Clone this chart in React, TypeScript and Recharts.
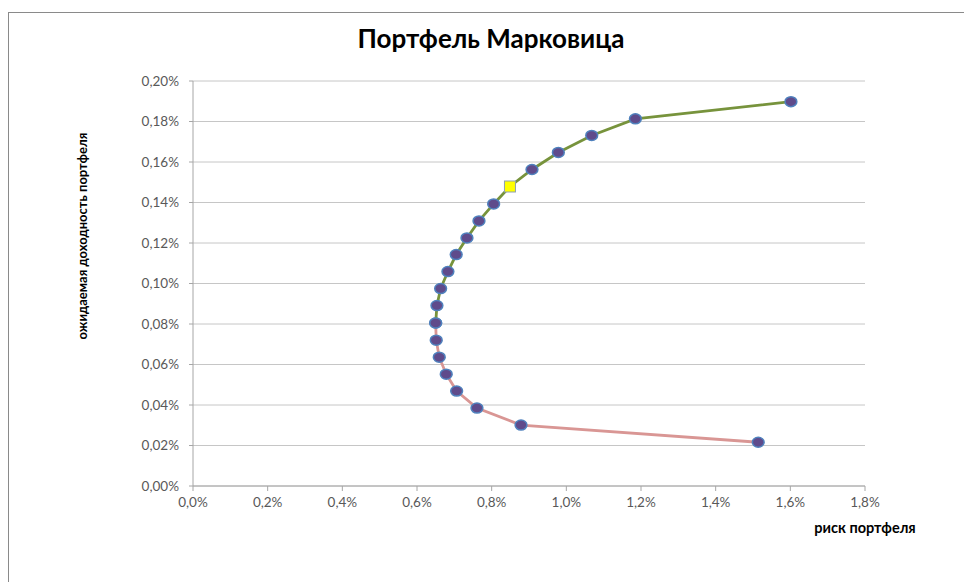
import React from 'react';
import {
  ScatterChart,
  Scatter,
  XAxis,
  YAxis,
  CartesianGrid,
} from 'recharts';

// риск (%) / доходность (%) — верхняя ветвь (эффективная граница)
const upperRisk = [0.650, 0.6534, 0.6633, 0.6828, 0.705, 0.7338, 0.766, 0.8053, 0.849, 0.908, 0.9786, 1.068, 1.185, 1.6016];
const upperReturn = [0.0805, 0.0891, 0.0975, 0.1059, 0.1143, 0.1225, 0.1309, 0.1393, 0.1479, 0.1563, 0.1647, 0.1731, 0.1813, 0.1898];

// нижняя ветвь
const lowerRisk = [0.650, 0.6515, 0.6596, 0.6783, 0.7062, 0.7606, 0.8786, 1.514];
const lowerReturn = [0.0805, 0.0720, 0.0636, 0.0552, 0.0469, 0.0385, 0.0301, 0.0216];

// касательный портфель (жёлтый квадрат) — индекс в верхней ветви
const tangentIndex = 8;

const xTicks = [0, 0.2, 0.4, 0.6, 0.8, 1.0, 1.2, 1.4, 1.6, 1.8];
const yTicks = [0, 0.02, 0.04, 0.06, 0.08, 0.1, 0.12, 0.14, 0.16, 0.18, 0.2];

const upperData = upperRisk.map((x, i) => ({ x, y: upperReturn[i], tangent: i === tangentIndex }));
const lowerData = lowerRisk.map((x, i) => ({ x, y: lowerReturn[i], tangent: false }));

const FONT = 'Lato, "Open Sans", sans-serif';
const TICK = { fontSize: 13.5, fill: '#595959', fontFamily: FONT };

const Marker = (props: any) => {
  const { cx, cy, payload } = props;
  if (cx == null || cy == null) return <g />;
  if (payload && payload.tangent) {
    return (
      <rect x={cx - 5.5} y={cy - 5.5} width={11} height={11} fill="#FFFF00" stroke="#8EA0B0" strokeWidth={1} />
    );
  }
  return <ellipse cx={cx} cy={cy} rx={5.9} ry={5} fill="#5F4B8B" stroke="#4F81BD" strokeWidth={1.5} />;
};

const App: React.FC = () => {
  return (
    <div style={{ position: 'fixed', left: 0, top: 0, width: 964, height: 582, background: '#fff', overflow: 'hidden' }}>
      <div
        style={{
          position: 'absolute',
          left: 8,
          top: 12,
          width: 970,
          height: 600,
          borderLeft: '1px solid #8a8a8a',
          borderTop: '1px solid #8a8a8a',
        }}
      />
      <div
        style={{
          position: 'absolute',
          left: 0,
          width: 982,
          top: 23,
          lineHeight: '30px',
          textAlign: 'center',
          fontFamily: FONT,
          fontWeight: 700,
          fontSize: 26,
          color: '#000',
        }}
      >
        Портфель Марковица
      </div>
      <div
        style={{
          position: 'absolute',
          left: 82 - 150,
          width: 300,
          top: 236 - 8,
          lineHeight: '16px',
          textAlign: 'center',
          fontFamily: FONT,
          fontWeight: 700,
          fontSize: 13,
          color: '#000',
          transform: 'rotate(-90deg)',
        }}
      >
        ожидаемая доходность портфеля
      </div>
      <div
        style={{
          position: 'absolute',
          left: 865 - 100,
          width: 200,
          top: 528 - 9,
          lineHeight: '18px',
          textAlign: 'center',
          fontFamily: FONT,
          fontWeight: 700,
          fontSize: 14.5,
          color: '#000',
        }}
      >
        риск портфеля
      </div>
      <div style={{ position: 'absolute', left: 0, top: 0 }}>
        <ScatterChart width={964} height={582} margin={{ top: 81, right: 99, bottom: 0, left: 0 }}>
          <CartesianGrid vertical={false} stroke="#c6c6c6" strokeWidth={1} />
          <XAxis
            type="number"
            dataKey="x"
            domain={[0, 1.8]}
            ticks={xTicks}
            interval={0}
            height={96}
            tickSize={5}
            tickMargin={6}
            stroke="#a6a6a6"
            tick={TICK}
            tickFormatter={(v: number) => v.toFixed(1).replace('.', ',') + '%'}
          />
          <YAxis
            type="number"
            dataKey="y"
            domain={[0, 0.2]}
            ticks={yTicks}
            interval={0}
            width={193}
            tickSize={4}
            tickMargin={10}
            stroke="#a6a6a6"
            tick={TICK}
            tickFormatter={(v: number) => v.toFixed(2).replace('.', ',') + '%'}
          />
          <Scatter
            data={lowerData}
            line={{ stroke: '#D99694', strokeWidth: 2.8 }}
            lineType="joint"
            shape={Marker}
            isAnimationActive={false}
          />
          <Scatter
            data={upperData}
            line={{ stroke: '#77933C', strokeWidth: 2.8 }}
            lineType="joint"
            shape={Marker}
            isAnimationActive={false}
          />
        </ScatterChart>
      </div>
    </div>
  );
};

export default App;
